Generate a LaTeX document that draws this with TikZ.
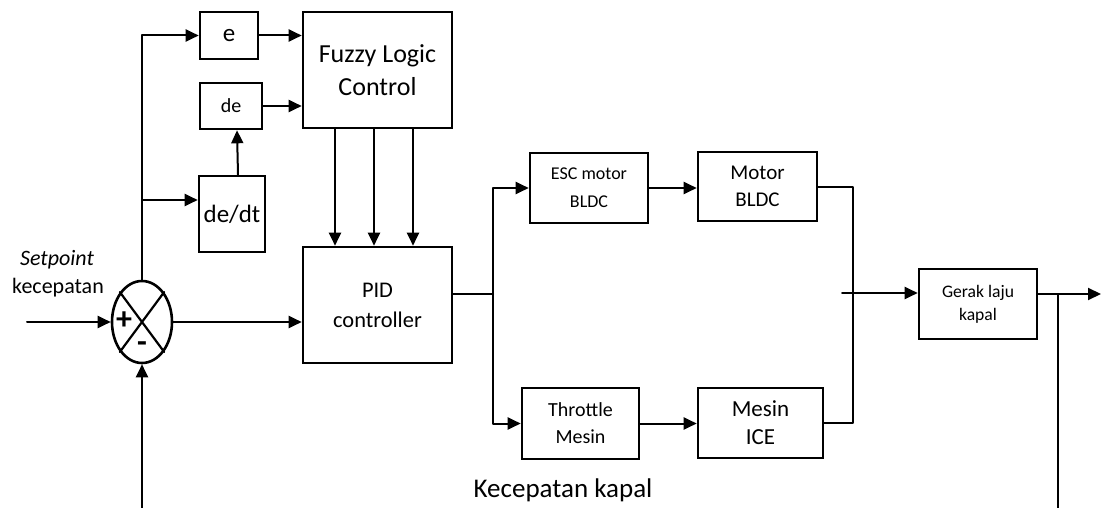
\documentclass[tikz,border=0pt]{standalone}
\usepackage{fontspec}
\setmainfont{Carlito}
\usetikzlibrary{arrows.meta,shapes.geometric}

\begin{document}
\begin{tikzpicture}[line cap=round,line join=round,>={Triangle[length=6.5pt,width=6pt]},x=0.5pt,y=-0.5pt,
	blok/.style={draw,line width=1.3pt,line join=miter,align=center,inner sep=1pt},
	garis/.style={line width=1pt}]
	\useasboundingbox (0,0) rectangle (1102,508);
	% blok-blok
	\node[blok,minimum width=29pt,minimum height=23.5pt,font=\fontsize{12.5}{14}\selectfont] (e) at (229,35.5) {e};
	\node[blok,minimum width=31pt,minimum height=23pt,font=\fontsize{10}{11}\selectfont] (de) at (231,106) {de};
	\node[blok,minimum width=33pt,minimum height=38pt,font=\fontsize{12.5}{14}\selectfont] (dedt) at (232,214) {de/dt};
	\node[blok,minimum width=74.5pt,minimum height=58pt,font=\fontsize{13}{16.5}\selectfont] (fuzzy) at (377.5,70) {Fuzzy Logic\\Control};
	\node[blok,minimum width=74.5pt,minimum height=58pt,font=\fontsize{11.2}{15}\selectfont] (pid) at (377.5,305) {PID\\controller};
	\node[blok,minimum width=59pt,minimum height=35pt,font=\fontsize{9}{14}\selectfont] (esc) at (589,188) {ESC motor\\BLDC};
	\node[blok,minimum width=59.5pt,minimum height=34.5pt,font=\fontsize{10.5}{13.5}\selectfont] (motor) at (757.5,186.5) {Motor\\BLDC};
	\node[blok,minimum width=58.5pt,minimum height=35.5pt,font=\fontsize{10}{13.5}\selectfont] (throttle) at (580.5,423.5) {Throttle\\Mesin};
	\node[blok,minimum width=62.5pt,minimum height=35pt,font=\fontsize{11.5}{14}\selectfont] (ice) at (760.5,423) {Mesin\\ICE};
	\node[blok,minimum width=59pt,minimum height=35pt,font=\fontsize{8.8}{11.5}\selectfont] (gerak) at (978,304) {Gerak laju\\kapal};
	% penjumlah
	\node[draw,ellipse,line width=1.3pt,minimum width=30pt,minimum height=41pt,inner sep=0pt] (sum) at (142,322) {};
	\draw[line width=1.1pt] (sum.north west) -- (sum.south east) (sum.north east) -- (sum.south west);
	\node[font=\fontsize{16}{16}\selectfont\bfseries] (plus) at (124,321) {+};
	\node[font=\fontsize{16}{16}\selectfont\bfseries] (minus) at (142,347) {-};
	% teks
	\node[font=\fontsize{11}{13}\selectfont\itshape,anchor=base] (sp) at (57,265) {Setpoint};
	\node[font=\fontsize{11}{13}\selectfont,anchor=base] (kec) at (58,293) {kecepatan};
	\node[font=\fontsize{13.5}{15}\selectfont,anchor=base] (judul) at (563,497) {Kecepatan kapal};
	% titik bantu
	\coordinate (masuk) at (27,322);
	\coordinate (cab) at (142,200);
	\coordinate (cabang) at (493,294);
	\coordinate (gabung) at (853,300);
	\coordinate (gin) at (842,293);
	\coordinate (keluar) at (1101,294);
	\coordinate (umpan) at (1058,508);
	\coordinate (balik) at (142,508);
	% garis
	\draw[garis,->] (masuk) -- (sum.west);
	\draw[garis,->] (sum.north) |- (e.west);
	\draw[garis,->] (cab) -- (cab -| dedt.west);
	\draw[garis,->] ([xshift=3pt]dedt.north) -- ([xshift=3pt]de.south);
	\draw[garis,->] (e.east) -- (e.east -| fuzzy.west);
	\draw[garis,->] (de.east) -- (de.east -| fuzzy.west);
	\foreach \x in {335,374,413}
		\draw[garis,->] (\x,0 |- fuzzy.south) -- (\x,0 |- pid.north);
	\draw[garis,->] (sum.east) -- (sum.east -| pid.west);
	\draw[garis] (pid.east |- cabang) -- (cabang);
	\draw[garis,->] (cabang) |- (esc.west);
	\draw[garis,->] (cabang) |- (throttle.west);
	\draw[garis,->] (esc.east) -- (esc.east -| motor.west);
	\draw[garis,->] (throttle.east) -- (throttle.east -| ice.west);
	\draw[garis] (motor.east) -| (gabung) |- (ice.east);
	\draw[garis,->] (gin) -- (gin -| gerak.west);
	\draw[garis,->] (gerak.east |- keluar) -- (keluar);
	\draw[garis] (umpan |- keluar) -- (umpan);
	\draw[garis,->] (balik) -- (sum.south);
\end{tikzpicture}
\end{document}
